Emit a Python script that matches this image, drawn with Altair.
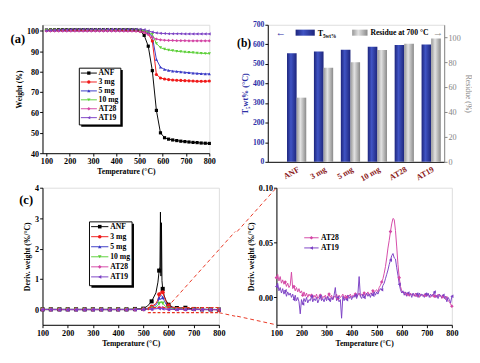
import altair as alt
import pandas as pd

FONT = "Liberation Serif"
RED = "#e8321e"
BLUE = "#2d2fa6"
GRAY = "#858585"
DARKRED = "#8b1a1a"

series = ["ANF", "3 mg", "5 mg", "10 mg", "AT28", "AT19"]
colors = ["#000000", "#f01a1a", "#3a3ac6", "#5ccf38", "#d446a5", "#7b40c4"]
shapes = ["square", "circle", "triangle-up", "triangle-down", "diamond", "triangle-left"]

# ---------------- (a) TGA ----------------
temp_a = [100, 117.5, 135, 152.5, 170, 187.5, 205, 222.5, 240, 257.5, 275, 292.5, 310, 327.5,
          345, 362.5, 380, 397.5, 415, 432.5, 450, 467.5, 485, 502.5, 520, 537.5, 555, 572.5,
          590, 607.5, 625, 642.5, 660, 677.5, 695, 712.5, 730, 747.5, 765, 782.5, 800]
wt_anf = [100.4, 100.5, 100.5, 100.6, 100.6, 100.6, 100.6, 100.6, 100.6, 100.6, 100.6, 100.6,
          100.6, 100.6, 100.6, 100.6, 100.6, 100.6, 100.6, 100.6, 100.6, 100.6, 100.5,
          100.2, 97.8, 92.5, 80.5, 61.0, 50.0, 47.6, 46.9, 46.5, 46.2, 45.9, 45.7, 45.5,
          45.3, 45.2, 45.0, 44.9, 44.8]
wt_3mg = [100.2, 100.3, 100.3, 100.3, 100.3, 100.3, 100.3, 100.3, 100.3, 100.3, 100.3, 100.3,
          100.3, 100.3, 100.3, 100.3, 100.3, 100.3, 100.3, 100.3, 100.2, 100.2, 100.1,
          99.9, 99.5, 98.6, 95.0, 78.6, 76.9, 76.4, 76.1, 75.9, 75.8, 75.7, 75.6, 75.5,
          75.4, 75.3, 75.3, 75.3, 75.4]
wt_5mg = [100.2, 100.3, 100.3, 100.3, 100.3, 100.3, 100.3, 100.3, 100.3, 100.3, 100.3, 100.3,
          100.3, 100.3, 100.3, 100.3, 100.3, 100.3, 100.3, 100.3, 100.3, 100.2, 100.2,
          100.1, 99.8, 99.2, 97.2, 86.0, 82.2, 81.1, 80.6, 80.3, 80.1, 79.9, 79.7, 79.5,
          79.3, 79.2, 79.0, 78.9, 78.9]
wt_10mg = [100.3, 100.4, 100.4, 100.4, 100.4, 100.4, 100.4, 100.4, 100.4, 100.4, 100.4, 100.4,
           100.4, 100.4, 100.4, 100.4, 100.4, 100.4, 100.4, 100.4, 100.4, 100.4, 100.4,
           100.3, 100.0, 99.5, 98.3, 93.8, 91.8, 91.0, 90.6, 90.3, 90.0, 89.8, 89.6, 89.4,
           89.3, 89.1, 89.0, 88.9, 88.8]
wt_at28 = [99.9, 99.9, 99.9, 99.9, 99.9, 99.9, 99.9, 99.9, 99.9, 99.9, 99.9, 99.9,
           99.9, 99.9, 99.9, 99.9, 99.9, 99.9, 99.9, 99.8, 99.8, 99.8, 99.8,
           99.6, 99.1, 98.2, 96.9, 96.0, 95.6, 95.4, 95.3, 95.3, 95.2, 95.2, 95.2, 95.1,
           95.1, 95.1, 95.1, 95.1, 95.1]
wt_at19 = [100.2, 100.3, 100.4, 100.5, 100.6, 100.6, 100.7, 100.8, 100.8, 100.8, 100.8, 100.8,
           100.8, 100.8, 100.8, 100.8, 100.8, 100.8, 100.8, 100.8, 100.8, 100.8, 100.8,
           100.8, 100.6, 100.0, 99.4, 99.0, 98.8, 98.7, 98.6, 98.6, 98.6, 98.6, 98.5, 98.5,
           98.5, 98.5, 98.5, 98.5, 98.5]

# ---------------- (b) bars ----------------
t5wt = [555, 564, 572, 588, 596, 599]
residue = [51.5, 75.6, 79.9, 89.7, 94.8, 99.0]

# ---------------- (c) DTG ----------------
temp_c = [100, 133, 167, 200, 233, 267, 300, 333, 367, 400, 433, 467, 500, 517, 533, 550, 558,
          563, 566, 568, 570, 572, 574, 577, 583, 590, 600, 617, 633, 667, 700, 733, 767, 800]
marker_temps_c = [100, 133, 167, 200, 233, 267, 300, 333, 367, 400, 433, 467, 500, 533, 563,
                  577, 600, 633, 667, 700, 733, 767, 800]
dtg_anf = [0.01, 0.01, 0.01, 0.01, 0.01, 0.01, 0.01, 0.01, 0.01, 0.01, 0.01, 0.02,
           0.03, 0.12, 0.27, 0.55, 0.90, 1.28, 1.40, 3.20, 1.10, 2.85, 0.95, 0.68, 0.45,
           0.30, 0.16, 0.08, 0.05, 0.06, 0.02, 0.01, 0.01, 0.00]
dtg_3mg = [0.00, 0.00, 0.00, 0.00, 0.00, 0.00, 0.00, 0.00, 0.00, 0.00, 0.00, 0.00,
           0.01, 0.04, 0.10, 0.20, 0.32, 0.50, 0.55, 0.58, 0.60, 0.62, 0.61, 0.57, 0.42,
           0.27, 0.14, 0.05, 0.03, 0.02, 0.01, 0.01, 0.00, 0.00]
dtg_5mg = [0.00, 0.00, 0.00, 0.00, 0.00, 0.00, 0.00, 0.00, 0.00, 0.00, 0.00, 0.00,
           0.01, 0.03, 0.07, 0.15, 0.25, 0.38, 0.42, 0.44, 0.45, 0.46, 0.45, 0.40, 0.30,
           0.18, 0.09, 0.04, 0.02, 0.01, 0.01, 0.00, 0.00, 0.00]
dtg_10mg = [0.00, 0.00, 0.00, 0.00, 0.00, 0.00, 0.00, 0.00, 0.00, 0.00, 0.00, 0.00,
            0.005, 0.015, 0.04, 0.09, 0.14, 0.20, 0.23, 0.24, 0.25, 0.25, 0.24, 0.21, 0.15,
            0.09, 0.04, 0.02, 0.01, 0.01, 0.00, 0.00, 0.00, 0.00]
dtg_at28 = [0.004, 0.003, 0.002, 0.002, 0.001, 0.001, 0.001, 0.001, 0.001, 0.002, 0.002, 0.003,
            0.006, 0.010, 0.020, 0.045, 0.060, 0.070, 0.072, 0.073, 0.071, 0.066, 0.063, 0.058,
            0.042, 0.025, 0.008, 0.004, 0.003, 0.002, 0.002, 0.001, 0.000, -0.005]
dtg_at19 = [0.003, 0.001, -0.002, -0.002, -0.002, -0.001, -0.001, -0.001, 0.000, 0.000, 0.001, 0.002,
            0.004, 0.008, 0.015, 0.025, 0.033, 0.038, 0.040, 0.039, 0.037, 0.036, 0.035, 0.030,
            0.020, 0.012, 0.005, 0.003, 0.002, 0.002, 0.002, 0.001, 0.000, 0.000]
zoom_box_temp = [520, 800]
zoom_box_deriv = [-0.1, 0.07]

# ---------------- (d) zoomed DTG ----------------
temp_d = list(range(100, 805, 5))
marker_temps_d = list(range(100, 801, 35))
dtgz_at28 = [
    0.018, 0.021, 0.015, 0.019, 0.013, 0.016, 0.012, 0.014, 0.010, 0.013, 0.009, 0.011, 0.023, 0.008, 0.010, 0.006, 0.009, 0.005, 0.008, 0.004,
    0.006, 0.002, 0.005, 0.001, 0.004, 0.000, 0.003, 0.001, 0.002, -0.001, 0.002, 0.000, 0.003, -0.001, 0.001, 0.002, -0.002, 0.001, 0.000, 0.002,
    -0.001, 0.001, 0.003, 0.000, 0.002, -0.002, 0.001, 0.000, 0.003, -0.001, 0.002, 0.000, 0.001, 0.003, -0.001, 0.002, 0.000, 0.002, 0.001, 0.003,
    0.000, 0.002, 0.001, 0.003, 0.000, 0.002, 0.004, 0.001, 0.003, 0.002, 0.004, 0.001, 0.003, 0.005, 0.002, 0.004, 0.003, 0.006, 0.004, 0.006,
    0.007, 0.005, 0.009, 0.011, 0.014, 0.017, 0.022, 0.028, 0.036, 0.045, 0.052, 0.060, 0.067, 0.072, 0.071, 0.061, 0.046, 0.030, 0.018, 0.010,
    0.006, 0.004, 0.005, 0.002, 0.004, 0.003, 0.001, 0.004, 0.002, 0.003, 0.001, 0.004, 0.002, 0.003, 0.000, 0.003, 0.002, 0.001, 0.003, 0.002,
    0.001, 0.003, 0.002, 0.000, 0.002, 0.003, 0.001, 0.002, 0.000, 0.003, 0.001, 0.002, -0.001, 0.001, 0.000, -0.002, 0.001, -0.003, -0.004, -0.006,
    -0.008]
dtgz_at19 = [
    0.010, 0.013, 0.006, 0.009, 0.004, 0.008, 0.003, 0.006, 0.001, 0.005, 0.002, 0.004, 0.000, 0.003, -0.002, 0.002, -0.003, 0.000, -0.004, -0.015,
    -0.002, -0.006, -0.001, -0.004, 0.000, -0.005, -0.002, -0.003, 0.001, -0.004, -0.001, -0.003, 0.000, -0.005, -0.002, 0.001, -0.003, -0.001, -0.004, 0.000,
    -0.003, 0.001, -0.002, -0.004, 0.000, -0.002, 0.002, 0.009, -0.003, 0.000, -0.004, -0.002, -0.019, 0.001, -0.003, 0.000, -0.002, 0.002, -0.001, 0.001,
    -0.002, 0.001, 0.000, 0.002, -0.001, 0.003, 0.019, 0.001, -0.001, 0.003, 0.000, 0.002, 0.004, 0.001, 0.003, 0.000, 0.004, 0.002, 0.005, 0.002,
    0.005, 0.003, 0.006, 0.008, 0.007, 0.011, 0.013, 0.017, 0.021, 0.025, 0.030, 0.034, 0.038, 0.040, 0.036, 0.035, 0.027, 0.020, 0.012, 0.007,
    0.004, 0.006, 0.002, 0.005, 0.001, 0.004, 0.002, 0.003, 0.000, 0.004, 0.002, 0.001, 0.003, 0.000, 0.004, 0.001, 0.003, 0.002, 0.000, 0.003,
    0.001, 0.004, 0.000, 0.003, 0.001, 0.002, 0.005, 0.000, 0.002, -0.001, 0.003, 0.001, 0.000, 0.002, -0.001, 0.001, -0.004, 0.000, -0.002, -0.005,
    0.001]


def long_df(names, temps, arrays, yname):
    rows = []
    for s, arr in zip(names, arrays):
        assert len(arr) == len(temps), (s, len(arr), len(temps))
        for t, v in zip(temps, arr):
            rows.append({"T": t, yname: v, "series": s})
    return pd.DataFrame(rows)


df_a = long_df(series, temp_a, [wt_anf, wt_3mg, wt_5mg, wt_10mg, wt_at28, wt_at19], "W")
df_c = long_df(series, temp_c, [dtg_anf, dtg_3mg, dtg_5mg, dtg_10mg, dtg_at28, dtg_at19], "D")
df_c_pts = df_c[df_c["T"].isin(marker_temps_c)]
df_d = long_df(["AT28", "AT19"], temp_d, [dtgz_at28, dtgz_at19], "D")
df_d_pts = df_d[df_d["T"].isin(marker_temps_d)]
df_bt = pd.DataFrame({"cat": series, "val": t5wt, "kind": "T"})
df_br = pd.DataFrame({"cat": series, "val": residue, "kind": "R"})
df_box = pd.DataFrame({"T": [zoom_box_temp[0]], "T2": [zoom_box_temp[1]],
                       "D": [zoom_box_deriv[0]], "D2": [zoom_box_deriv[1]]})
one = pd.DataFrame({"k": [0]})


def axis(title, values, **extra):
    kw = dict(grid=False, labelFont=FONT, labelFontWeight="bold", labelFontSize=8.5,
              labelColor="black", titleFont=FONT, titleFontWeight="bold", titleFontSize=8,
              titleColor="black", domainColor="black", domainWidth=1, tickColor="black",
              tickSize=3, tickWidth=1, labelPadding=1, titlePadding=3, labelFlush=False)
    kw.update(extra)
    kw["title"] = title
    if values is not None:
        kw["values"] = values
    return alt.Axis(**kw)


def text(s, x, y, size=8, color="black", align="left", weight="bold", baseline="middle"):
    return alt.Chart(one).mark_text(text=s, align=align, baseline=baseline, font=FONT,
                                    fontSize=size, fontWeight=weight, color=color).encode(
        x=alt.value(x), y=alt.value(y))


def rule(x0, y0, x1, y1, color, dash=None, width=1):
    kw = dict(color=color, strokeWidth=width)
    if dash:
        kw["strokeDash"] = dash
    return alt.Chart(one).mark_rule(**kw).encode(
        x=alt.value(x0), y=alt.value(y0), x2=alt.value(x1), y2=alt.value(y1))


def rect(x0, y0, x1, y1, **kw):
    return alt.Chart(one).mark_rect(**kw).encode(
        x=alt.value(x0), x2=alt.value(x1), y=alt.value(y0), y2=alt.value(y1))


def line_legend(names, x0, x1, xm, xt, y0, dy, box=None, msize=12, fsize=8):
    out = []
    if box:
        bx0, by0, bx1, by1 = box
        out.append(rect(bx0 + 2, by0 + 2, bx1 + 2, by1 + 2, color="black"))
        out.append(rect(bx0, by0, bx1, by1, fill="white", stroke="black", strokeWidth=1))
    for i, s in enumerate(names):
        k = series.index(s)
        y = y0 + i * dy
        out.append(rule(x0, y, x1, y, colors[k]))
        out.append(alt.Chart(one).mark_point(shape=shapes[k], filled=True, color=colors[k],
                                             size=msize, opacity=1).encode(
            x=alt.value(xm), y=alt.value(y)))
        out.append(text(s, xt, y, size=fsize))
    return out


col = alt.Color("series:N", scale=alt.Scale(domain=series, range=colors), legend=None)
shp = alt.Shape("series:N", scale=alt.Scale(domain=series, range=shapes), legend=None)
temps_ticks = [100, 200, 300, 400, 500, 600, 700, 800]

# ---- panel (a)
xa = alt.X("T:Q", scale=alt.Scale(domain=[83, 800], nice=False, zero=False),
           axis=axis("Temperature (°C)", temps_ticks))
ya = alt.Y("W:Q", scale=alt.Scale(domain=[40, 103], nice=False, zero=False),
           axis=axis("Weight (%)", [40, 50, 60, 70, 80, 90, 100]))
a_lines = alt.Chart(df_a).mark_line(strokeWidth=1).encode(x=xa, y=ya, color=col)
a_pts = alt.Chart(df_a).mark_point(filled=True, size=11, opacity=1).encode(
    x=xa, y=ya, color=col, shape=shp)
a_spacer = rule(120, -9, 120, -1, "white")
panel_a = alt.layer(
    a_lines, a_pts,
    *line_legend(series, 40, 56.7, 48.3, 58.5, 50.4, 9.3, box=(38.4, 45.3, 81.7, 104.5)),
    text("(a)", -33.3, 14.9, size=13), a_spacer
).properties(width=174, height=134)

# ---- panel (b)
grad_blue = alt.LinearGradient(gradient="linear", x1=0, x2=1, y1=0, y2=0, stops=[
    alt.GradientStop(offset=0, color="#1d257c"), alt.GradientStop(offset=0.4, color="#4054c4"),
    alt.GradientStop(offset=1, color="#1d257c")])
grad_gray = alt.LinearGradient(gradient="linear", x1=0, x2=1, y1=0, y2=0, stops=[
    alt.GradientStop(offset=0, color="#979797"), alt.GradientStop(offset=0.4, color="#e2e2e2"),
    alt.GradientStop(offset=1, color="#8a8a8a")])
xb = alt.X("cat:N", sort=series,
           scale=alt.Scale(paddingInner=0.285, paddingOuter=0.42, align=0.85),
           axis=alt.Axis(title=None, labelAngle=330, ticks=False, labelColor=DARKRED,
                         labelFont=FONT, labelFontWeight="bold", labelFontSize=8.5,
                         domainColor="black", labelPadding=3))
xo = alt.XOffset("kind:N", sort=["T", "R"],
                 scale=alt.Scale(domain=["T", "R"], paddingInner=0, paddingOuter=0))
bars_t = alt.Chart(df_bt).mark_bar(color=grad_blue).encode(
    x=xb, xOffset=xo,
    y=alt.Y("val:Q", scale=alt.Scale(domain=[0, 700], nice=False),
            axis=axis("T₅wt% (°C)", [0, 100, 200, 300, 400, 500, 600, 700],
                      labelColor=BLUE, titleColor=BLUE, titleFontSize=8.5, labelFontSize=8)))
bars_r = alt.Chart(df_br).mark_bar(color=grad_gray).encode(
    x=xb, xOffset=xo,
    y=alt.Y("val:Q", scale=alt.Scale(domain=[0, 110], nice=False),
            axis=axis("Residue (%)", [0, 20, 40, 60, 80, 100], orient="right",
                      labelColor=GRAY, titleColor=GRAY, domainColor=GRAY, tickColor=GRAY,
                      labelFontWeight="normal", titleFontWeight="normal")))
panel_b = alt.layer(
    bars_t, bars_r,
    text("←", 8, 9.1, size=11, color=BLUE, weight="normal"),
    rect(29, 5.1, 49, 11.4, color=grad_blue),
    text("T", 52, 9.1, size=8.5),
    text("5wt%", 57.5, 11.3, size=5.5),
    rect(88, 5.1, 104, 11.4, color=grad_gray),
    text("Residue at 700 °C", 107, 9.1, size=8),
    text("→", 183, 9.1, size=11, color=GRAY, align="right", weight="normal"),
    text("(b)", -32, 19.6, size=12),
).resolve_scale(y="independent").properties(width=184, height=143)

# ---- panel (c)
xc = alt.X("T:Q", scale=alt.Scale(domain=[100, 800], nice=False, zero=False),
           axis=axis("Temperature (°C)", temps_ticks))
yc = alt.Y("D:Q", scale=alt.Scale(domain=[-0.5, 4], nice=False, zero=False),
           axis=axis("Deriv. weight (%/°C)", [0, 1, 2, 3, 4]))
c_lines = alt.Chart(df_c).mark_line(strokeWidth=1).encode(x=xc, y=yc, color=col)
c_pts = alt.Chart(df_c_pts).mark_point(filled=True, size=18, opacity=1).encode(
    x=xc, y=yc, color=col, shape=shp)
c_box = alt.Chart(df_box).mark_rect(filled=False, color=RED, strokeDash=[3, 2],
                                    strokeWidth=1.2).encode(
    x=xc, x2=alt.X2("T2:Q"), y=yc, y2=alt.Y2("D2:Q"))
panel_c = alt.layer(
    c_lines, c_pts, c_box,
    rule(130, 124.9, 201, 45.7, RED, dash=[4, 3]),
    rule(184, 130.3, 201, 134.0, RED, dash=[4, 3]),
    *line_legend(series, 50.7, 68.7, 59.7, 70.7, 40.6, 10.48, box=(49, 35.6, 93.4, 102.2),
                 msize=14),
    text("(c)", -24.3, 12.8, size=13),
).properties(width=184, height=143)

# ---- panel (d)
xd = alt.X("T:Q", scale=alt.Scale(domain=[100, 800], nice=False, zero=False),
           axis=axis("Temperature (°C)", temps_ticks))
yd = alt.Y("D:Q", scale=alt.Scale(domain=[-0.025, 0.10], nice=False, zero=False),
           axis=axis("Deriv. weight (%/°C)", [0, 0.05, 0.10], format=".2f"))
d_lines = alt.Chart(df_d).mark_line(strokeWidth=1).encode(x=xd, y=yd, color=col)
d_pts = alt.Chart(df_d_pts).mark_point(filled=True, size=14, opacity=1).encode(
    x=xd, y=yd, color=col, shape=shp)
panel_d = alt.layer(
    d_lines, d_pts,
    rule(-41, 45.7, 0, 0, RED, dash=[4, 3]),
    rule(-41, 134.0, 0, 143, RED, dash=[4, 3]),
    *line_legend(["AT28", "AT19"], 29, 44, 36.5, 46.5, 52.2, 10.6, msize=14),
).properties(width=183, height=143)

chart = alt.concat(
    panel_a, panel_b, panel_c, panel_d,
    columns=2, spacing=0, align="none", bounds="full"
).properties(
    padding={"left": 2, "top": 0, "right": 0, "bottom": 0}
).configure_view(stroke="black", strokeWidth=1).configure(background="white", font=FONT)

chart.save("out.html", embed_options={"renderer": "svg", "actions": False})
